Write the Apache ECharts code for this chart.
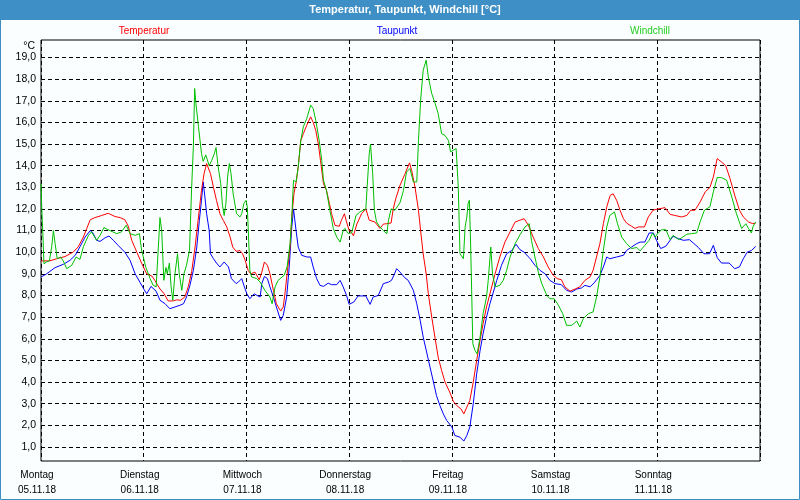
<!DOCTYPE html>
<html>
<head>
<meta charset="utf-8">
<script src="https://cdn.jsdelivr.net/npm/echarts@6/dist/echarts.min.js"></script>
<style>
html,body{margin:0;padding:0;background:#fbfefe;}
#chart{width:800px;height:500px;}
</style>
</head>
<body>
<div id="chart"></div>
<script>
const titleText = 'Temperatur, Taupunkt, Windchill [°C]';
const seriesNames = ['Temperatur', 'Taupunkt', 'Windchill'];
const dayNames = ['Montag', 'Dienstag', 'Mittwoch', 'Donnerstag', 'Freitag', 'Samstag', 'Sonntag'];
const dayDates = ['05.11.18', '06.11.18', '07.11.18', '08.11.18', '09.11.18', '10.11.18', '11.11.18'];
const yTicks = [1,2,3,4,5,6,7,8,9,10,11,12,13,14,15,16,17,18,19];

// [hour since Monday 00:00, °C]
const temperatur = [[0,9.6],[2,9.6],[3.7,9.7],[5.6,9.8],[7.5,10.0],[8.7,10.25],[9.9,10.7],[10.7,11.1],[11.5,11.5],[12.6,11.6],[14.2,11.7],[15.7,11.8],[17.3,11.65],[18.5,11.6],[19.6,11.5],[20.4,11.2],[21.2,10.55],[22.4,10.0],[23.5,9.5],[24.7,9.0],[25.9,8.9],[26.6,8.7],[27.8,8.3],[28.7,8.1],[29.7,7.75],[30.9,7.75],[31.7,7.8],[32.6,7.78],[33.6,7.93],[34.4,8.4],[35.2,9.1],[36,10.24],[36.8,11.63],[37.5,12.86],[38.1,13.63],[38.7,14.1],[39.1,14.13],[39.6,13.63],[40.3,13.0],[41,12.4],[41.8,11.78],[42.6,11.47],[43.4,11.17],[44.2,10.7],[44.8,10.24],[45.6,10.04],[46.5,10.08],[47.1,9.93],[47.7,9.63],[48.4,9.16],[49,9.0],[50,9.08],[51,8.73],[51.6,9.08],[52.2,9.55],[52.9,9.4],[53.5,9.0],[54.3,8.24],[55,7.62],[56,7.28],[56.6,7.47],[57,8.08],[57.5,9.0],[58.2,10.24],[58.6,11.63],[59.1,12.7],[59.7,13.33],[60.1,13.94],[60.7,15.17],[61.3,15.48],[62.1,15.87],[63,16.26],[63.6,16.0],[64.2,15.63],[64.8,15.0],[65.3,14.25],[66,13.17],[66.7,12.86],[67.4,12.25],[67.9,11.78],[68.7,11.24],[69.7,11.2],[70.2,11.48],[70.9,11.78],[71.4,11.4],[72,11.0],[72.6,10.9],[73,10.76],[73.8,11.3],[74.9,11.78],[75.9,12.0],[76.7,11.48],[78,11.4],[79.2,11.1],[80,11.3],[80.8,11.32],[81.8,11.35],[82.3,12.0],[82.9,12.48],[83.9,13.1],[85,13.6],[86.1,14.13],[86.6,13.79],[87.4,13.0],[88.2,11.94],[88.7,11.0],[89.3,9.93],[90,9.0],[90.5,8.08],[91.3,7.0],[92.1,6.0],[92.8,5.15],[93.6,4.54],[94.4,4.0],[95.6,3.49],[96.3,3.12],[97.1,2.92],[98.1,2.76],[98.8,2.53],[99.5,2.84],[100.2,3.15],[101,4.0],[101.8,5.0],[102.6,5.93],[103.3,6.7],[104.1,7.47],[104.9,8.08],[106.1,9.0],[107.2,9.78],[108.4,10.47],[109.6,10.94],[110.8,11.4],[111.9,11.48],[112.9,11.55],[113.9,11.24],[115,10.7],[116.2,10.17],[117.4,9.78],[118.5,9.32],[119.7,8.93],[120.6,8.78],[121.6,8.73],[122.4,8.4],[123.6,8.2],[124.8,8.3],[125.9,8.4],[127.1,8.7],[128.3,8.86],[129,9.16],[129.8,9.78],[130.6,10.4],[131.4,11.32],[132.2,12.1],[133,12.63],[133.7,12.7],[134.5,12.4],[135.3,11.94],[136.1,11.55],[136.8,11.35],[138,11.2],[138.8,11.1],[139.6,11.17],[141,11.17],[141.9,11.63],[143,11.94],[144.2,12.0],[145.8,12.06],[147,11.75],[148.1,11.7],[149.7,11.63],[150.9,11.7],[151.8,11.94],[152.8,11.94],[154,12.32],[155.2,12.79],[156.3,13.0],[157.1,13.48],[158,14.33],[159,14.17],[160,14.0],[161,13.4],[162.1,12.63],[163.2,11.94],[164.1,11.63],[165.3,11.4],[166.3,11.32],[167,11.35]];

const taupunkt = [[0,8.85],[1.3,9.0],[3.3,9.29],[5.2,9.44],[6.8,9.63],[8,9.86],[9.1,10.25],[10.3,10.7],[11.5,11.0],[12.1,10.9],[13,10.55],[13.8,10.5],[15,10.67],[15.9,10.75],[16.9,10.55],[18.1,10.3],[19.6,10.0],[20.8,9.63],[22,9.0],[23.1,8.62],[24.1,8.27],[24.7,8.08],[25.7,8.42],[26.9,8.2],[27.8,7.78],[29,7.62],[30.1,7.39],[31.3,7.47],[32.5,7.55],[33.3,7.62],[34,7.93],[34.8,8.47],[35.6,9.16],[36.4,10.24],[37,11.47],[37.5,12.4],[37.9,13.25],[38.3,12.55],[38.7,11.78],[39.3,11.0],[39.6,9.93],[40.3,9.7],[41,9.5],[41.8,9.32],[42.8,9.55],[43.8,9.32],[44.5,8.78],[45.6,8.55],[46.1,8.62],[46.9,8.78],[47.4,8.47],[48.1,8.08],[48.8,7.85],[49.8,8.08],[50.5,8.0],[51.2,7.93],[51.6,8.55],[52.2,8.88],[52.9,8.78],[53.5,8.4],[54.3,7.93],[55,7.47],[56,6.85],[56.6,7.08],[57.4,7.93],[58,9.32],[58.6,11.17],[59,12.0],[59.6,11.0],[60.1,10.24],[60.9,9.86],[62.1,9.78],[63,9.78],[63.6,9.32],[64.4,8.78],[65.2,8.47],[66,8.42],[67.1,8.57],[67.9,8.5],[69.1,8.5],[69.9,8.7],[70.6,8.4],[71.4,8.0],[72,7.59],[73.1,7.7],[74.1,7.98],[75.9,7.98],[76.9,7.59],[77.6,7.93],[78.8,8.0],[80,8.55],[81.2,8.62],[81.9,8.7],[82.6,9.0],[83.1,9.24],[83.9,9.08],[85,8.82],[85.8,8.7],[87,8.24],[87.8,7.62],[88.6,6.85],[89.3,6.08],[90.1,5.39],[90.9,4.69],[91.7,4.0],[92.4,3.38],[93.2,2.92],[94,2.53],[94.8,2.22],[96,1.92],[96.7,1.53],[97.9,1.45],[98.8,1.27],[99.5,1.53],[100.2,1.92],[101,3.0],[101.8,4.38],[102.6,5.46],[103.3,6.23],[104.1,7.0],[104.9,7.62],[105.7,8.16],[106.5,8.7],[107.6,9.4],[108.8,9.93],[110,10.08],[111,10.37],[111.9,10.12],[112.9,10.0],[114.3,9.7],[115.4,9.4],[116.6,9.16],[117.8,9.0],[118.9,8.7],[120.1,8.55],[121.6,8.5],[122.8,8.24],[124,8.16],[125.2,8.3],[126.3,8.35],[127.1,8.47],[128.3,8.4],[129.4,8.62],[130.6,8.93],[131.4,9.32],[132.2,9.78],[132.9,9.7],[134.5,9.78],[136.1,9.86],[136.8,10.08],[138,10.24],[139.2,10.4],[140,10.47],[141.1,10.47],[142.1,10.89],[143.1,10.89],[143.8,10.55],[144.8,10.17],[146,10.28],[147.7,10.74],[148.9,10.63],[150.1,10.55],[151.5,10.58],[152.4,10.43],[153.6,10.22],[154.9,9.93],[156.2,9.93],[157.1,10.32],[158,9.75],[159,9.5],[160.8,9.5],[162.1,9.24],[163.2,9.32],[164.1,9.7],[165,10.0],[166,10.08],[167,10.27]];

const windchill = [[0,13.17],[0.15,12.17],[0.4,11.0],[0.7,9.47],[1.3,9.55],[1.95,9.6],[2.5,10.25],[2.9,11.0],[3.3,10.4],[3.8,9.7],[4.6,9.78],[5.2,9.6],[6,9.24],[7.2,9.4],[8.2,9.78],[9.1,9.67],[9.9,10.25],[11.1,10.78],[11.8,10.94],[13,10.55],[13.8,10.78],[14.7,11.14],[16.1,11.0],[17.7,10.86],[18.8,10.94],[19.9,11.25],[20.8,10.86],[22,10.78],[23,10.86],[23.5,10.1],[24.5,9.3],[25.5,8.78],[26.2,8.47],[26.9,8.4],[27.3,8.4],[27.8,11.6],[28.2,11.0],[28.7,8.7],[29.2,9.3],[29.5,9.0],[30,9.5],[30.4,8.4],[30.8,7.78],[31.3,9.0],[31.9,9.93],[32.3,9.0],[32.9,8.24],[33.4,9.0],[34,9.4],[34.7,10.1],[35.2,13.0],[35.6,14.87],[35.9,17.57],[36.2,16.87],[36.8,15.8],[37.5,14.56],[37.9,14.2],[38.5,14.5],[38.9,14.56],[39.3,14.0],[39.9,14.25],[40.5,14.56],[40.9,14.84],[41.4,13.94],[42,13.17],[42.4,12.17],[42.8,11.7],[43.2,12.25],[43.6,13.48],[44,14.1],[44.4,13.63],[44.9,12.7],[45.7,11.78],[46.5,11.63],[46.9,11.78],[47.4,12.25],[47.9,12.4],[48.2,12.1],[48.5,10.7],[48.8,9.16],[49.2,8.86],[50.4,8.78],[51.2,8.62],[52.3,8.24],[53.5,7.93],[54,7.62],[54.7,8.4],[55.4,8.7],[55.8,8.7],[56.8,8.93],[57.5,9.32],[58.2,10.4],[58.6,11.63],[59,13.33],[59.6,13.25],[60.1,13.94],[60.7,15.17],[61.3,15.8],[62.1,16.18],[63,16.8],[63.6,16.64],[64.2,16.1],[65,15.17],[65.6,14.25],[66,13.33],[66.7,12.86],[67.5,11.94],[68.3,11.1],[69.1,10.7],[69.9,10.47],[70.6,11.0],[71,11.1],[71.8,10.86],[72.6,10.9],[73.6,11.7],[74.5,11.86],[75.9,12.0],[76.2,13.0],[76.7,14.56],[77,15.0],[77.5,13.63],[77.9,11.94],[78.4,11.4],[79.2,11.17],[80,11.0],[80.8,10.86],[81.2,11.48],[81.8,12.0],[82.7,11.94],[83.9,12.3],[84.7,12.86],[85.4,13.7],[86.2,13.87],[87,13.25],[87.8,13.25],[88.2,15.17],[88.7,17.03],[89.3,18.41],[90,18.88],[90.5,18.1],[91.3,17.33],[92.1,16.87],[92.8,16.41],[93.6,15.48],[94.4,15.4],[95.2,15.17],[95.7,14.64],[96.3,14.71],[97,14.79],[97.5,13.0],[97.9,9.93],[98.7,9.7],[99.1,11.17],[99.5,11.63],[99.8,12.25],[100.1,12.4],[100.4,10.24],[100.9,5.77],[101.4,5.46],[101.9,5.3],[102.6,6.08],[103.3,7.16],[104.1,7.93],[104.5,8.7],[105.1,10.24],[105.5,9.0],[106.1,8.4],[107.2,8.47],[108,8.7],[108.8,9.16],[109.6,9.78],[110.8,10.4],[111.9,10.8],[113.1,11.17],[114.1,11.32],[114.6,10.55],[115.4,9.78],[116.2,9.08],[117,8.55],[118.2,8.0],[118.9,7.85],[119.9,7.85],[120.9,7.55],[121.9,7.16],[122.8,6.62],[124,6.62],[125.2,6.82],[125.9,6.54],[126.7,6.93],[127.9,7.16],[129,7.24],[129.8,7.93],[130.6,8.86],[131.4,10.08],[132.2,11.17],[132.9,11.7],[134,11.86],[134.7,11.32],[135.7,10.7],[136.8,10.4],[138,10.17],[139.2,10.22],[140,10.06],[141.1,10.32],[142.1,10.55],[142.9,10.89],[143.5,10.7],[144.2,10.89],[145,11.04],[146,11.04],[147,10.58],[147.7,10.78],[149,10.58],[149.7,10.67],[150.9,10.83],[152,10.86],[153.2,10.89],[154,11.4],[155,11.94],[156.3,12.1],[157.1,12.79],[158,13.45],[159,13.45],[160.2,13.33],[161.4,12.56],[162.5,11.78],[163.7,11.1],[164.7,11.32],[165.3,11.1],[166,10.89],[166.4,11.2],[167,11.4]];

const colors = ['#ff0000', '#0000ff', '#00c000'];
const legendColors = ['#ff0000', '#0000ff', '#22cc22'];
const frameBlue = '#3d8fc6';
const FONT = 'Liberation Sans';

const chart = echarts.init(document.getElementById('chart'), null, {renderer: 'canvas'});
chart.setOption({
  animation: false,
  backgroundColor: '#fbfefe',
  textStyle: {fontFamily: FONT},
  grid: {left: 41, right: 40, top: 40, bottom: 39, show: true, borderColor: '#000', borderWidth: 1, backgroundColor: 'transparent'},
  xAxis: {
    type: 'value', min: 0, max: 168, interval: 24,
    axisLine: {show: false}, axisTick: {show: false},
    splitLine: {show: true, lineStyle: {color: '#000', type: [4, 3], width: 1}},
    axisLabel: {
      fontFamily: FONT, fontSize: 10, color: '#000', margin: 7, lineHeight: 15,
      padding: [0, 8, 0, 0],
      showMaxLabel: false,
      formatter: function (v) {
        const i = Math.round(v / 24);
        if (i >= dayNames.length) return '';
        return dayNames[i] + '\n' + dayDates[i];
      }
    }
  },
  yAxis: {
    type: 'value', min: 0.35, max: 19.81,
    axisLine: {show: false},
    axisTick: {show: false, customValues: yTicks},
    splitLine: {show: true, lineStyle: {color: '#000', type: [4, 3], width: 1}},
    axisLabel: {
      customValues: yTicks,
      fontFamily: FONT, fontSize: 10.5, color: '#000', margin: 5,
      formatter: function (v) { return v.toFixed(1).replace('.', ','); }
    }
  },
  graphic: [
    {type: 'rect', left: 0, top: 0, shape: {x: 0, y: 0, width: 800, height: 20}, style: {fill: frameBlue}, silent: true},
    {type: 'rect', shape: {x: 0.5, y: 0.5, width: 799, height: 499}, style: {fill: null, stroke: frameBlue, lineWidth: 1}, silent: true},
    {type: 'text', x: 405, y: 10, style: {text: titleText, fill: '#fff', font: 'bold 11px ' + FONT, align: 'center', verticalAlign: 'middle'}},
    {type: 'text', x: 144, y: 31, style: {text: seriesNames[0], fill: legendColors[0], font: '10px ' + FONT, align: 'center', verticalAlign: 'middle'}},
    {type: 'text', x: 397, y: 31, style: {text: seriesNames[1], fill: legendColors[1], font: '10px ' + FONT, align: 'center', verticalAlign: 'middle'}},
    {type: 'text', x: 650, y: 31, style: {text: seriesNames[2], fill: legendColors[2], font: '10px ' + FONT, align: 'center', verticalAlign: 'middle'}},
    {type: 'text', x: 35, y: 46, style: {text: '°C', fill: '#000', font: '10.5px ' + FONT, align: 'right', verticalAlign: 'middle'}}
  ],
  series: [
    {name: seriesNames[0], type: 'line', data: temperatur, showSymbol: false, lineStyle: {color: colors[0], width: 1}, itemStyle: {color: colors[0]}, z: 3},
    {name: seriesNames[1], type: 'line', data: taupunkt, showSymbol: false, lineStyle: {color: colors[1], width: 1}, itemStyle: {color: colors[1]}, z: 2},
    {name: seriesNames[2], type: 'line', data: windchill, showSymbol: false, lineStyle: {color: colors[2], width: 1}, itemStyle: {color: colors[2]}, z: 4}
  ]
});
</script>
</body>
</html>
